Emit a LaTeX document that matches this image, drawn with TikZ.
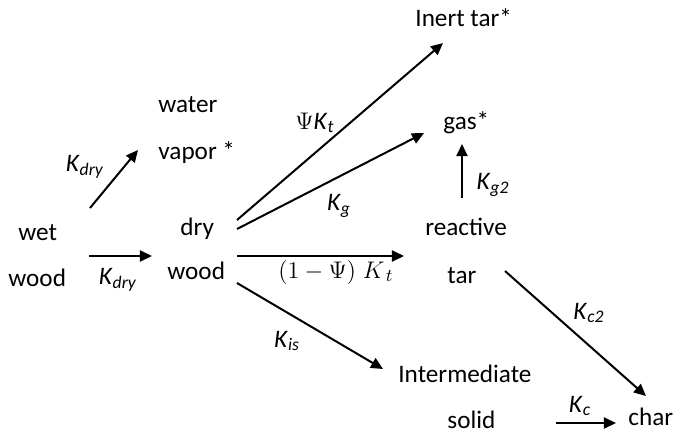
\documentclass[tikz,border=0pt]{standalone}
\usepackage{fontspec}
\setmainfont{Carlito}
\usepackage{tikz}
\usetikzlibrary{arrows.meta}
\newcommand{\rate}[1]{\textit{K}\textsubscript{\textit{#1}}}
\tikzset{
  species/.style={inner sep=0pt, anchor=base west},
  klabel/.style={inner sep=0pt},
  react/.style={-{Triangle[length=6pt, width=5.5pt]}, line width=1pt},
}
\begin{document}
\begin{tikzpicture}[x=0.5pt, y=-0.5pt, every node/.style={font=\fontsize{12.6}{15}\selectfont}]
\useasboundingbox (0,0) rectangle (677,435);
% species
\node[species] (inert) at (415,26) {Inert tar*};
\node[species] (water) at (158,112) {water};
\node[species] (vapor) at (158,159) {vapor *};
\node[species] (gas) at (443,129) {gas*};
\node[species] (wet) at (18,240) {wet};
\node[species] (wetwood) at (8,286) {wood};
\node[species] (dry) at (180,235) {dry};
\node[species] (drywood) at (167,279) {wood};
\node[species] (reactive) at (425,235) {reactive};
\node[species] (tar) at (447,283) {tar};
\node[species] (inter) at (398,382) {Intermediate};
\node[species] (solid) at (447,428) {solid};
\node[species] (char) at (628,425) {char};
% arrow ends
\coordinate (a1) at (90,208);  \coordinate (b1) at (138,150);
\coordinate (a2) at (89,256);  \coordinate (b2) at (152,256);
\coordinate (a3) at (237,220); \coordinate (b3) at (443,43);
\coordinate (a4) at (237,229); \coordinate (b4) at (424,133);
\coordinate (a5) at (462,198); \coordinate (b5) at (462,144);
\coordinate (a6) at (237,256); \coordinate (b6) at (404,256);
\coordinate (a7) at (237,283); \coordinate (b7) at (383,369);
\coordinate (a8) at (505,271); \coordinate (b8) at (646,396);
\coordinate (a9) at (556,423); \coordinate (b9) at (616,423);
% reactions
\draw[react] (a1) -- (b1);
\draw[react] (a2) -- (b2);
\draw[react] (a3) -- (b3);
\draw[react] (a4) -- (b4);
\draw[react] (a5) -- (b5);
\draw[react] (a6) -- (b6);
\draw[react] (a7) -- (b7);
\draw[react] (a8) -- (b8);
\draw[react] (a9) -- (b9);
% rate constants
\node[klabel] (k1) at (85,167) {\rate{dry}};
\node[klabel] (k2) at (118,280) {\rate{dry}};
\node[klabel] (k3) at (315,123) {$\Psi$\rate{t}};
\node[klabel] (k4) at (339,206) {\rate{g}};
\node[klabel] (k5) at (493,185) {\rate{g2}};
\node[klabel] (k6) at (336,272) {$(1-\Psi)\;K_{\,t}$};
\node[klabel] (k7) at (287,341) {\rate{is}};
\node[klabel] (k8) at (589,313) {\rate{c2}};
\node[klabel] (k9) at (580,406) {\rate{c}};
\end{tikzpicture}
\end{document}
